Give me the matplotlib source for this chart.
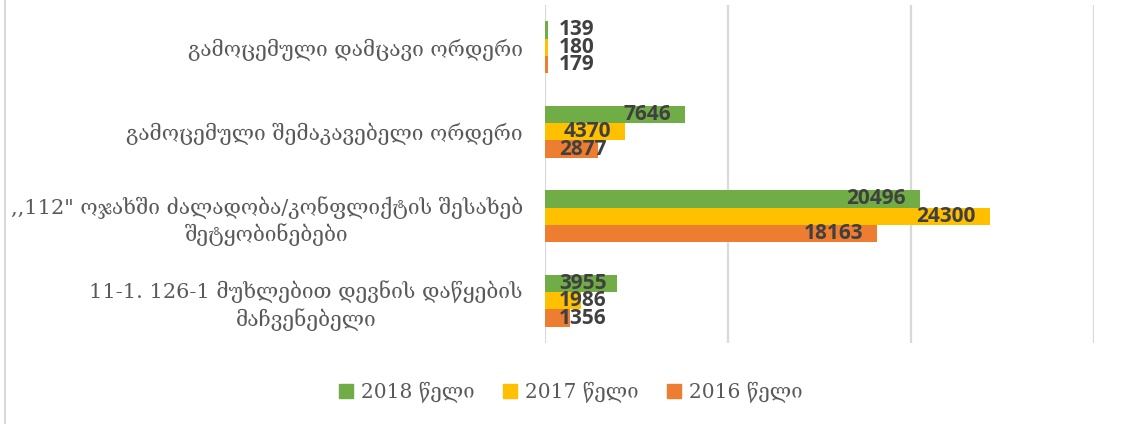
import numpy as np
import matplotlib
matplotlib.use('Agg')
import matplotlib.pyplot as plt
from matplotlib.lines import Line2D
from matplotlib.transforms import ScaledTranslation

# categories top to bottom
categories = ['გამოცემული დამცავი ორდერი',
              'გამოცემული შემაკავებელი ორდერი',
              ',,112" ოჯახში ძალადობა/კონფლიქტის შესახებ\nშეტყობინებები',
              '11-1. 126-1 მუხლებით დევნის დაწყების\nმაჩვენებელი']
series_names = ['2018 წელი', '2017 წელი', '2016 წელი']
v2018 = [139, 7646, 20496, 3955]
v2017 = [180, 4370, 24300, 1986]
v2016 = [179, 2877, 18163, 1356]
colors = ['#70AD47', '#FFC000', '#ED7D31']
xticks = [0, 10000, 20000, 30000]

geo_font = ['DejaVu Serif', 'DejaVu Sans']
num_font = ['Open Sans', 'DejaVu Sans']

fig = plt.figure(figsize=(11.21, 4.24), dpi=100)
ax = fig.add_axes([545/1121, 1-343/424, (1094-545)/1121, (343-5)/424])

y = np.arange(len(categories))
h = 0.207
series = [v2018, v2017, v2016]
for i, vals in enumerate(series):
    ax.barh(y + (i-1)*h, vals, height=h, color=colors[i], label=series_names[i], zorder=2)

ax.set_xlim(0, 30000)
ax.set_ylim(3.5, -0.5)
ax.set_xticks(xticks)
ax.xaxis.grid(True, color='#D9D9D9', lw=1.6, zorder=0)
ax.tick_params(axis='x', length=0, labelbottom=False)
ax.tick_params(axis='y', length=0, pad=16)
for s in ax.spines.values():
    s.set_visible(False)
ax.set_yticks(y)
ax.set_yticklabels(categories, family=geo_font, fontsize=15, color='#595959',
                   multialignment='center', linespacing=1.25)

# data labels: inside end, but never closer than 14px to the axis
fig.canvas.draw()
r = fig.canvas.get_renderer()
px_per = ax.get_window_extent().width / 30000
for i, vals in enumerate(series):
    for j, v in enumerate(vals):
        t = ax.text(0, y[j] + (i-1)*h, str(v), fontsize=15, fontweight='bold',
                    family=num_font, color='#404040', va='center', ha='right', zorder=3)
        tw = t.get_window_extent(r).width
        off = max(v*px_per - 14, 14 + tw)
        t.set_transform(ax.transData + ScaledTranslation(off/100, 0, fig.dpi_scale_trans))

handles = [plt.Rectangle((0, 0), 1, 1, color=c) for c in colors]
fig.legend(handles, series_names, loc='center', bbox_to_anchor=(571/1121, 1-392/424),
           ncol=3, frameon=False, handlelength=0.7, handleheight=0.7,
           columnspacing=1.4, handletextpad=0.4,
           prop={'family': geo_font, 'size': 14.5}, labelcolor='#595959')

# chart area border on the left
fig.add_artist(Line2D([5/1121, 5/1121], [0, 1], color='#D9D9D9', lw=1.5))

fig.savefig('out.png', dpi=100)
